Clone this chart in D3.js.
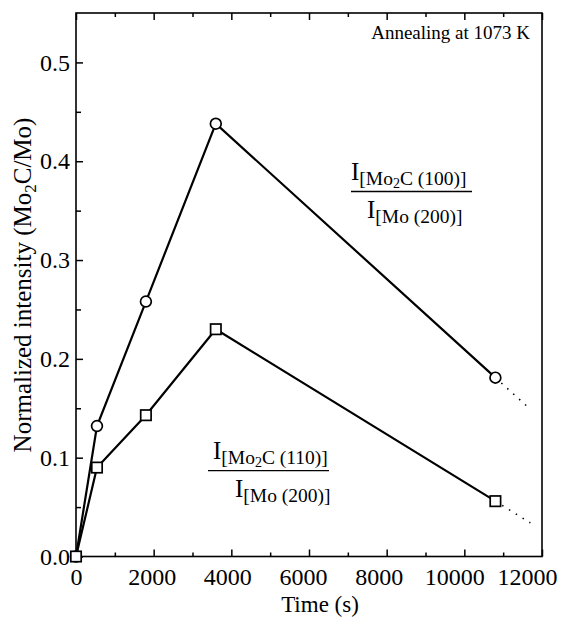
<!DOCTYPE html>
<html><head><meta charset="utf-8">
<script src="https://cdn.jsdelivr.net/npm/d3@7"></script>
<style>
body{margin:0;background:#fff}
text{font-family:"Liberation Serif","Times New Roman",serif;fill:#000}
</style>
</head><body>
<svg id="c" width="570" height="627"></svg>
<script>
// ---- data ----
const timeS   = [0, 540, 1800, 3600, 10800];
const mo2c100 = [0, 0.132, 0.258, 0.438, 0.181];
const mo2c110 = [0, 0.090, 0.143, 0.230, 0.056];
const extTime = [10800, 11700];
const ext100  = [0.181, 0.149];
const ext110  = [0.056, 0.034];
const xMajor = [0, 2000, 4000, 6000, 8000, 10000, 12000];
const xMinor = [1000, 3000, 5000, 7000, 9000, 11000];
const yMajor = [0.0, 0.1, 0.2, 0.3, 0.4, 0.5];
const yMinor = [0.05, 0.15, 0.25, 0.35, 0.45];
const title = "Annealing at 1073 K";
const xTitle = "Time (s)";

// ---- layout ----
const L = 76, R = 542, T = 13, B = 556.5;
const svg = d3.select("#c");
const x = d3.scaleLinear().domain([0, 12000]).range([L, R]);
const y = d3.scaleLinear().domain([0, 0.55]).range([B, T]);

svg.append("rect").attr("x", L).attr("y", T).attr("width", R - L).attr("height", B - T)
  .attr("fill", "none").attr("stroke", "#000").attr("stroke-width", 1.6);

function styleAxis(g) {
  g.select(".domain").remove();
  g.selectAll("line").attr("stroke", "#000").attr("stroke-width", 1.5);
}
const gb = svg.append("g").attr("transform", `translate(0,${B})`)
  .call(d3.axisBottom(x).tickValues(xMajor).tickSizeInner(-7).tickSizeOuter(0).tickPadding(11).tickFormat(d3.format("d")));
styleAxis(gb);
gb.selectAll("text").attr("font-size", 24).attr("font-family", "Liberation Serif")
  .attr("dx", d => -d / 1000 - (d === 12000 ? 3 : 0));
svg.append("g").attr("transform", `translate(0,${B})`)
  .call(d3.axisBottom(x).tickValues(xMinor).tickSizeInner(-4).tickSizeOuter(0).tickFormat(""))
  .call(styleAxis);
svg.append("g").attr("transform", `translate(0,${T})`)
  .call(d3.axisTop(x).tickValues(xMajor).tickSizeInner(-7).tickSizeOuter(0).tickFormat(""))
  .call(styleAxis);
svg.append("g").attr("transform", `translate(0,${T})`)
  .call(d3.axisTop(x).tickValues(xMinor).tickSizeInner(-4).tickSizeOuter(0).tickFormat(""))
  .call(styleAxis);
const gl = svg.append("g").attr("transform", `translate(${L},0)`)
  .call(d3.axisLeft(y).tickValues(yMajor).tickSizeInner(-7).tickSizeOuter(0).tickPadding(6).tickFormat(d3.format(".1f")));
styleAxis(gl);
gl.selectAll("text").attr("font-size", 24).attr("font-family", "Liberation Serif");
svg.append("g").attr("transform", `translate(${L},0)`)
  .call(d3.axisLeft(y).tickValues(yMinor).tickSizeInner(-5).tickSizeOuter(0).tickFormat(""))
  .call(styleAxis);

const line = d3.line().x(d => x(d[0])).y(d => y(d[1]));
const s100 = timeS.map((t, i) => [t, mo2c100[i]]);
const s110 = timeS.map((t, i) => [t, mo2c110[i]]);
[s100, s110].forEach(s => svg.append("path").attr("d", line(s)).attr("fill", "none")
  .attr("stroke", "#000").attr("stroke-width", 2.2));
[[extTime, ext100], [extTime, ext110]].forEach(([tt, vv]) =>
  svg.append("path").attr("d", line(tt.map((t, i) => [t, vv[i]]))).attr("fill", "none")
    .attr("stroke", "#000").attr("stroke-width", 1.6).attr("stroke-dasharray", "1.5,6.5"));

svg.selectAll(".circ").data(s100).join("circle").attr("class", "circ")
  .attr("cx", d => x(d[0])).attr("cy", d => y(d[1])).attr("r", 5.4)
  .attr("fill", "#fff").attr("stroke", "#000").attr("stroke-width", 1.7);
svg.selectAll(".sq").data(s110).join("rect").attr("class", "sq")
  .attr("x", d => x(d[0]) - 5.2).attr("y", d => y(d[1]) - 5.2).attr("width", 10.4).attr("height", 10.4)
  .attr("fill", "#fff").attr("stroke", "#000").attr("stroke-width", 1.7);

svg.append("text").attr("x", 530).attr("y", 39).attr("text-anchor", "end").attr("font-size", 19).text(title);
svg.append("text").attr("x", 320).attr("y", 612).attr("text-anchor", "middle").attr("font-size", 23).text(xTitle);

const yl = svg.append("text").attr("transform", "translate(31,285) rotate(-90)")
  .attr("text-anchor", "middle").attr("font-size", 25);
yl.append("tspan").text("Normalized intensity (Mo");
yl.append("tspan").attr("font-size", 17).attr("dy", 5).text("2");
yl.append("tspan").attr("dy", -5).text("C/Mo)");

function fraction(nx, dx, lx1, lx2, ly, hkl) {
  const n = svg.append("text").attr("x", nx).attr("y", ly - 12);
  n.append("tspan").attr("font-size", 25).text("I");
  n.append("tspan").attr("font-size", 19.5).attr("dy", 5).text("[Mo");
  n.append("tspan").attr("font-size", 14).attr("dy", 3).text("2");
  n.append("tspan").attr("font-size", 19.5).attr("dy", -3).text(`C (${hkl})]`);
  svg.append("line").attr("x1", lx1).attr("x2", lx2).attr("y1", ly).attr("y2", ly)
    .attr("stroke", "#000").attr("stroke-width", 1.3);
  const d = svg.append("text").attr("x", dx).attr("y", ly + 26);
  d.append("tspan").attr("font-size", 25).text("I");
  d.append("tspan").attr("font-size", 19.5).attr("dy", 5).text("[Mo (200)]");
}
fraction(351, 367, 351, 472, 191.5, "100");
fraction(213, 235, 208, 329, 470.7, "110");
</script>
</body></html>
